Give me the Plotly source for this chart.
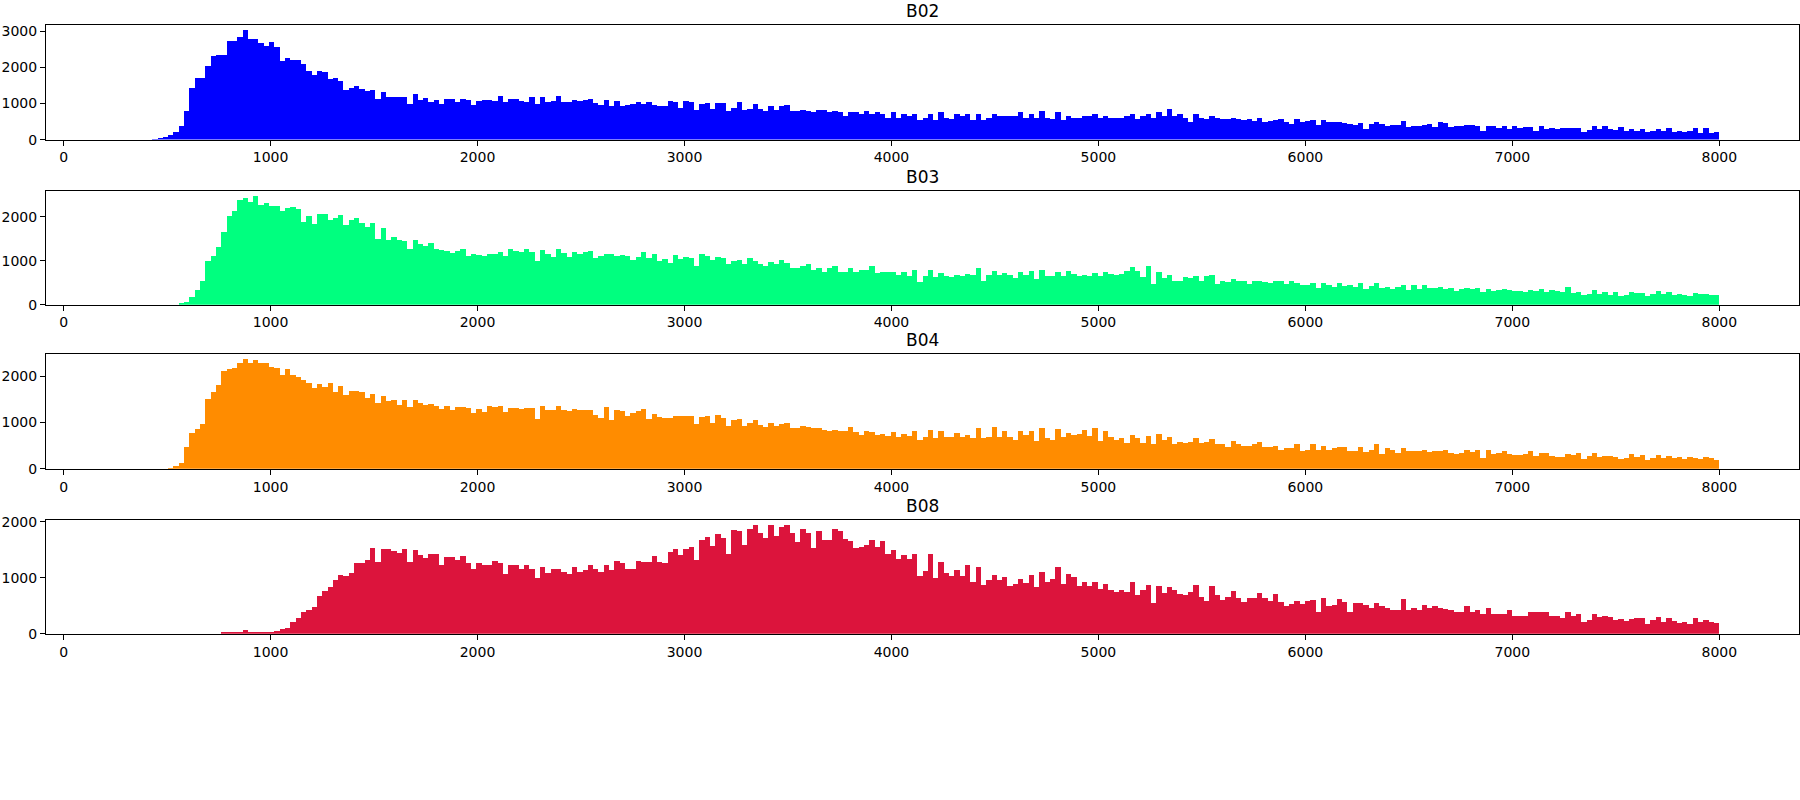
import plotly.graph_objects as go
from plotly.subplots import make_subplots

# Histogram bins: 300 equal bins between 300 and 8000
BIN_LO, BIN_HI, N_BINS = 300, 8000, 300

band_names = ["B02", "B03", "B04", "B08"]
band_colors = ["#0000ff", "#00ff7f", "#ff8c00", "#dc143c"]

# Counts per bin
counts_b02 = [0] * 5 + [
    20, 30, 70, 135, 215, 380, 795, 1435, 1705, 1720,
    2055, 2310, 2350, 2360, 2735, 2750, 2840, 3030, 2790, 2790,
    2680, 2605, 2705, 2560, 2190, 2270, 2220, 2220, 2100, 1910,
    1785, 1895, 1875, 1680, 1715, 1625, 1380, 1435, 1490, 1415,
    1360, 1380, 1135, 1325, 1190, 1190, 1190, 1190, 985, 1270,
    1110, 1165, 1040, 1110, 1000, 1135, 1135, 1055, 1135, 1110,
    975, 1080, 1110, 1110, 1080, 1220, 1040, 1135, 1135, 1080,
    1055, 1180, 1000, 1190, 1055, 1080, 1220, 1055, 1055, 1110,
    1080, 1110, 1135, 1030, 975, 1110, 945, 1080, 945, 975,
    1000, 1055, 1000, 1055, 975, 945, 945, 1080, 1055, 895,
    1080, 1045, 840, 1000, 1030, 865, 1030, 1030, 810, 895,
    1055, 840, 865, 1000, 865, 810, 945, 840, 945, 975,
    810, 810, 840, 810, 760, 840, 840, 760, 810, 760,
    675, 760, 760, 705, 810, 705, 760, 730, 620, 785,
    595, 705, 650, 705, 540, 620, 705, 540, 760, 595,
    570, 730, 660, 705, 540, 705, 540, 595, 705, 650,
    650, 650, 650, 785, 595, 705, 595, 810, 595, 570,
    760, 540, 675, 620, 620, 650, 650, 705, 620, 675,
    595, 620, 620, 650, 705, 570, 675, 730, 595, 785,
    675, 865, 675, 705, 620, 485, 730, 595, 570, 650,
    595, 570, 570, 620, 570, 540, 570, 515, 620, 485,
    515, 540, 570, 485, 435, 570, 495, 515, 540, 405,
    540, 485, 485, 485, 460, 435, 405, 460, 300, 435,
    485, 435, 380, 405, 405, 515, 350, 380, 380, 405,
    435, 350, 485, 460, 350, 380, 380, 405, 405, 380,
    245, 380, 380, 325, 380, 300, 380, 325, 350, 350,
    245, 380, 300, 325, 300, 325, 325, 325, 325, 215,
    270, 380, 300, 380, 300, 270, 350, 245, 300, 245,
    300, 215, 245, 300, 245, 325, 225, 245, 215, 245,
    325, 190, 325, 190, 215,
]

counts_b03 = [0] * 10 + [
    30, 75, 180, 335, 555, 1000, 1110, 1310, 1650, 2020,
    2130, 2375, 2440, 2330, 2465, 2270, 2310, 2240, 2240, 2140,
    2200, 2220, 2175, 1895, 2020, 1830, 2065, 2065, 1940, 1985,
    2040, 1805, 1930, 1975, 1870, 1760, 1870, 1495, 1755, 1470,
    1555, 1485, 1450, 1275, 1485, 1385, 1340, 1405, 1275, 1250,
    1230, 1185, 1230, 1275, 1120, 1160, 1140, 1120, 1160, 1160,
    1205, 1120, 1275, 1230, 1205, 1275, 1205, 1005, 1250, 1160,
    1095, 1275, 1185, 1095, 1205, 1160, 1205, 1230, 1075, 1120,
    1160, 1160, 1120, 1140, 1120, 1030, 1095, 1205, 1075, 1160,
    1005, 1050, 960, 1140, 1050, 1095, 1075, 875, 1160, 1120,
    1030, 1095, 1075, 920, 1005, 1030, 920, 1075, 1005, 940,
    875, 985, 920, 1030, 960, 850, 830, 895, 920, 805,
    830, 760, 850, 890, 760, 740, 850, 740, 805, 785,
    875, 720, 740, 740, 740, 675, 740, 650, 785, 520,
    650, 805, 630, 720, 650,
    630, 690, 650, 710, 675, 830, 540, 690, 775, 675,
    735, 675, 605, 755, 690, 775, 585, 800, 650, 650,
    755, 650, 775, 710, 650, 675, 650, 735, 650, 755,
    710, 675, 710, 775, 865, 775, 630, 890, 475, 755,
    605, 690, 555, 555, 630, 605, 650, 555, 665, 690,
    475, 555, 520, 600, 555, 535, 475, 535, 555, 520,
    495, 555, 535, 475, 535, 510, 450, 450, 510, 385,
    490, 450, 405, 490, 430, 450, 405, 490, 365, 430,
    490, 385, 405, 365, 405, 450, 340, 450, 365, 450,
    385, 385, 405, 365, 385, 320, 365, 385, 370, 385,
    295, 365, 320, 340, 365, 340, 320, 320, 295, 340,
    320, 365, 295, 340, 320, 295, 405, 275, 295, 230,
    250, 340, 250, 295, 230, 295, 205, 230, 295, 275,
    275, 205, 250, 320, 250, 295, 230, 250, 235, 205,
    275, 250, 250, 230, 230,
]

counts_b04 = [0] * 8 + [
    20, 65, 125, 485, 780, 865, 980, 1520, 1670, 1815,
    2110, 2155, 2175, 2280, 2365, 2280, 2345, 2280, 2280, 2205,
    2175, 2035, 2155, 2030, 1980, 1920, 1865, 1740, 1840, 1760,
    1860, 1655, 1795, 1590, 1690, 1690, 1670, 1530, 1625, 1420,
    1585, 1465, 1485, 1380, 1500, 1340, 1500, 1420, 1380, 1400,
    1360, 1295, 1360, 1275, 1340, 1340, 1315, 1210, 1295, 1230,
    1360, 1340, 1360, 1230, 1315, 1315, 1295, 1315, 1315, 1085,
    1360, 1275, 1275, 1360, 1275, 1255, 1295, 1275, 1275, 1275,
    1170, 1105, 1340, 1065, 1275, 1255, 1150, 1210, 1255, 1295,
    1085, 1190, 1125, 1105, 1105, 1150, 1150, 1150, 1150, 980,
    1125, 1150, 1000, 1170, 1105, 935, 1065, 1085, 935, 1000,
    1065, 955, 915, 1000, 935, 980, 1000, 875, 895, 935,
    915, 875, 895, 850, 810, 850, 810, 810, 915, 790,
    725, 810, 790, 725, 765, 705, 790, 685, 765, 705,
    810, 620, 685, 850, 660, 830, 685,
    695, 780, 695, 740, 675, 885, 675, 695, 910, 695,
    825, 695, 635, 825, 740, 825, 610, 885, 675, 635,
    865, 695, 780, 740, 760, 845, 720, 885, 610, 825,
    695, 635, 675, 550, 740, 675, 570, 720, 530, 760,
    635, 695, 530, 590, 570, 590, 675, 550, 590, 655,
    530, 530, 485, 610, 530, 505, 505, 530, 590, 465,
    465, 505, 400, 445, 445, 530, 380, 400, 530, 400,
    505, 420, 445, 485, 485, 380, 380, 485, 360, 420,
    530, 315, 445, 420, 340, 445, 380, 380, 380, 420,
    360, 380, 380, 400, 340, 315, 340, 400, 360, 400,
    230, 400, 315, 340, 380, 315, 295, 295, 315, 380,
    275, 340, 340, 275, 255, 255, 315, 295, 340, 210,
    275, 340, 255, 275, 275, 255, 210, 230, 315, 255,
    295, 190, 230, 295, 230, 275, 230, 255, 210, 255,
    230, 210, 255, 230, 190,
]

counts_b08 = [0] * 18 + [
    20, 20, 20, 35, 70, 35, 20, 35, 35, 35,
    50, 85, 105, 210, 280, 385, 435, 490, 680, 770,
    840, 960, 1050, 1030, 1085, 1260, 1275, 1330, 1540, 1295,
    1520, 1520, 1475, 1455, 1520, 1295, 1505, 1415, 1365, 1435,
    1435, 1240, 1380, 1380, 1320, 1400, 1260, 1170, 1260, 1225,
    1240, 1310, 1260, 1065, 1225, 1225, 1155, 1225, 1155, 995,
    1190, 1085, 1155, 1170, 1100, 1065, 1205, 1100, 1135, 1240,
    1170, 1100, 1240, 1135, 1310, 1260, 1155, 1170, 1310, 1280,
    1295, 1400, 1295, 1260, 1470, 1520, 1415, 1520, 1555, 1330,
    1680, 1730, 1575, 1785, 1715, 1435, 1855, 1835, 1590, 1870,
    1940, 1800, 1715, 1940, 1750, 1905, 1940, 1800, 1645, 1870,
    1800, 1540, 1835, 1680, 1680, 1870, 1835, 1695, 1660, 1540,
    1555, 1590, 1680, 1555, 1660, 1435, 1505, 1345, 1415, 1345,
    1435, 1030, 1120, 1435, 995, 1295, 1085,
    1030, 1135, 1030, 1225, 925, 1205, 875, 960, 1050, 960,
    1015, 855, 890, 980, 910, 1050, 840, 1100, 925, 980,
    1190, 890, 1065, 1015, 855, 925, 855, 925, 805, 890,
    785, 750, 785, 750, 925, 700, 785, 875, 560, 855,
    735, 840, 785, 715, 700, 750, 875, 665, 595, 855,
    700, 610, 665, 770, 645, 575, 645, 645, 735, 645,
    595, 715, 575, 505, 540, 595, 540, 595, 610, 385,
    645, 505, 525, 630, 575, 400, 560, 560, 525, 470,
    560, 505, 470, 435, 435, 630, 435, 470, 435, 525,
    470, 505, 470, 455, 435, 385, 385, 505, 400, 435,
    350, 470, 350, 365, 365, 435, 315, 330, 330, 400,
    385, 385, 385, 330, 330, 280, 400, 315, 350, 210,
    245, 350, 295, 315, 295, 245, 260, 225, 260, 280,
    280, 175, 245, 295, 210, 280, 225, 190, 210, 175,
    280, 210, 245, 210, 190,
]

band_counts = [counts_b02, counts_b03, counts_b04, counts_b08]

bin_width = (BIN_HI - BIN_LO) / N_BINS
bin_centers = [BIN_LO + bin_width * (i + 0.5) for i in range(N_BINS)]

# Figure geometry (pixels), matplotlib-like stacked axes
W, H = 1800, 800
panel_px = [(19, 136), (188, 304), (354, 471), (523, 639)]
x_dom = [46 / W, 1799 / W]
pad = 0.05 * (BIN_HI - BIN_LO)

fig = make_subplots(rows=4, cols=1)

axis_style = dict(
    showline=True, mirror=True, linecolor="black", linewidth=1,
    ticks="outside", ticklen=5, tickwidth=1, tickcolor="black",
    showgrid=False, zeroline=False, tickformat="d",
    tickfont=dict(size=14, color="black"),
)

for r, (name, color, counts) in enumerate(zip(band_names, band_colors, band_counts)):
    fig.add_trace(
        go.Bar(
            x=bin_centers[:len(counts)], y=counts, width=bin_width,
            marker=dict(color=color, line=dict(width=0)),
            name=name, showlegend=False,
        ),
        row=r + 1, col=1,
    )
    top, bottom = panel_px[r]
    fig.update_xaxes(
        domain=x_dom, range=[BIN_LO - pad, BIN_HI + pad],
        tickvals=list(range(0, 8001, 1000)), **axis_style,
        row=r + 1, col=1,
    )
    fig.update_yaxes(
        domain=[1 - bottom / H, 1 - top / H], range=[0, max(counts) * 1.05],
        dtick=1000, **axis_style,
        row=r + 1, col=1,
    )
    fig.add_annotation(
        text=name, x=(x_dom[0] + x_dom[1]) / 2, y=1 - top / H,
        xref="paper", yref="paper", xanchor="center", yanchor="bottom",
        yshift=2, showarrow=False, font=dict(size=17, color="black"),
    )

fig.update_layout(
    width=W, height=H,
    margin=dict(l=0, r=0, t=0, b=0),
    plot_bgcolor="white", paper_bgcolor="white",
    bargap=0,
    font=dict(family="DejaVu Sans", color="black"),
)

# drop the default page margin so the figure sits at the window's corner
fig.write_html(
    "out.html",
    config={"displayModeBar": False},
    post_script="document.body.style.margin='0';document.body.style.overflow='hidden';",
)
